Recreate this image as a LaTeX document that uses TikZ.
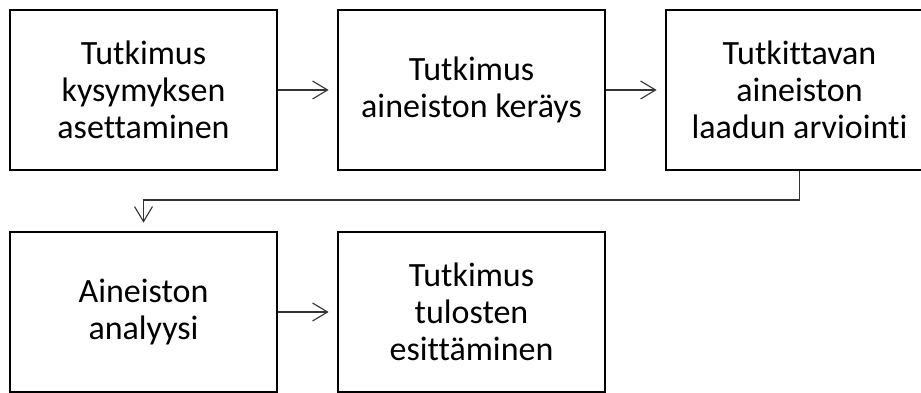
\documentclass[tikz,border=0pt]{standalone}
\usepackage{fontspec}
\setmainfont{Carlito}[Ligatures=NoCommon]
\usetikzlibrary{arrows.meta}
\begin{document}
\begin{tikzpicture}[x=1pt,y=-1pt,
  stepbox/.style={draw=black, line width=2.8pt, minimum width=267pt,
    minimum height=160pt, align=center, inner sep=0pt,
    font=\fontsize{34}{37}\selectfont},
  link/.style={draw=black!80, line width=1.1pt,
    -{Straight Barb[length=15pt,width=18pt,line width=1.1pt]},
    shorten >=8pt}]
\useasboundingbox (0,0) rectangle (921,392);
% top row
\node[stepbox] (q) at (143.5,90) {Tutkimus\\kysymyksen\\asettaminen};
\node[stepbox] (c) at (471.5,90) {Tutkimus\\aineiston keräys};
\node[stepbox] (e) at (799.5,90) {Tutkittavan\\aineiston\\laadun arviointi};
% bottom row
\node[stepbox] (an) at (143.5,312) {Aineiston\\analyysi};
\node[stepbox] (r) at (471.5,312) {Tutkimus\\tulosten\\esittäminen};
% connectors
\draw[link] (q.east) -- (c.west);
\draw[link] (c.east) -- (e.west);
\coordinate (turn) at (0,200);
\draw[link] (e.south) |- (turn -| an.north) -- (an.north);
\draw[link] (an.east) -- (r.west);
\end{tikzpicture}
\end{document}
